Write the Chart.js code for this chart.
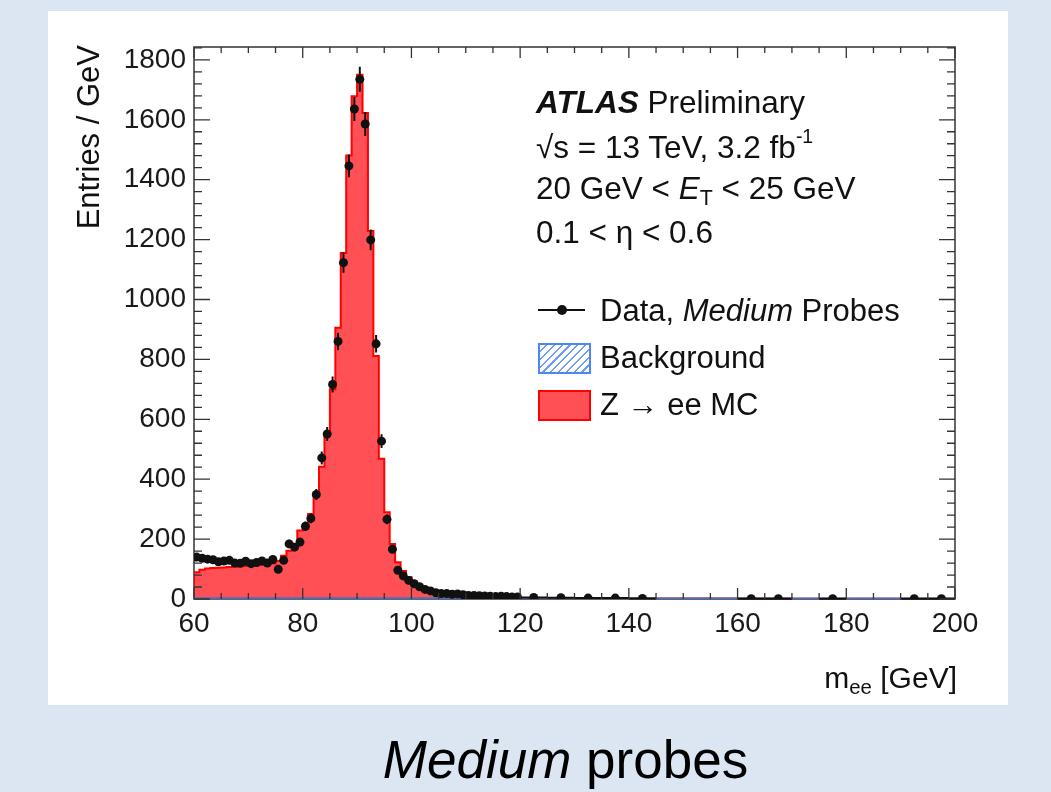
<!DOCTYPE html>
<html>
<head>
<meta charset="utf-8">
<script src="https://cdn.jsdelivr.net/npm/chart.js@4.4.1/dist/chart.umd.min.js"></script>
<style>
  body { margin: 0; width: 1051px; height: 792px; overflow: hidden; background: #dce6f2;
         font-family: "Liberation Sans", Arial, Helvetica, sans-serif; }
  #panel { position: absolute; left: 48px; top: 11px; width: 960px; height: 694px; background: #fff; }
  #plot { position: absolute; left: 0; top: 0; }
  .txt { position: absolute; white-space: nowrap; color: #111; line-height: 1; }
  .note { left: 536px; font-size: 31.5px; }
  .leg { left: 600px; font-size: 31px; }
  sub { font-size: 68%; vertical-align: -0.28em; line-height: 0; }
  sup { font-size: 62%; vertical-align: 0.75em; line-height: 0; }
  .mark { position: absolute; }
</style>
</head>
<body>
<div id="panel"></div>
<canvas id="plot" width="1051" height="792"></canvas>

<!-- axis titles -->
<div class="txt" id="ytitle" style="left:73px; top:345px; width:300px; text-align:right; font-size:31px; line-height:31px; transform-origin:0 0; transform:rotate(-90deg);">Entries / GeV</div>
<div class="txt" style="right:94px; top:663px; font-size:30px;">m<sub>ee</sub> [GeV]</div>

<!-- ATLAS block -->
<div class="txt note" style="top:87px;"><b><i>ATLAS</i></b> Preliminary</div>
<div class="txt note" style="top:132px;">√s = 13 TeV, 3.2 fb<sup>-1</sup></div>
<div class="txt note" style="top:173px;">20 GeV &lt; <i>E</i><sub>T</sub> &lt; 25 GeV</div>
<div class="txt note" style="top:217px;">0.1 &lt; η &lt; 0.6</div>

<!-- legend -->
<div class="mark" style="left:538px; top:309px; width:47px; height:2px; background:#111;"></div>
<div class="mark" style="left:557px; top:305px; width:10px; height:10px; border-radius:50%; background:#111;"></div>
<div class="txt leg" style="top:295px;">Data, <i>Medium</i> Probes</div>
<div class="mark" style="left:538px; top:343px; width:49px; height:27px; border:2px solid #4f86f7;
     background: repeating-linear-gradient(135deg, #fff 0 4px, #6f9cf5 4px 5.5px);"></div>
<div class="txt leg" style="top:342px;">Background</div>
<div class="mark" style="left:538px; top:390px; width:49px; height:27px; border:2px solid #f00; background:#ff5056;"></div>
<div class="txt leg" style="top:389px;">Z → ee MC</div>

<!-- caption -->
<div class="txt" style="left:0; width:1131px; text-align:center; top:733px; font-size:53px; color:#000;"><i>Medium</i> probes</div>

<script>
// m_ee bin edges [GeV]: 1 GeV bins up to 120, then 5 GeV bins
const binEdges = [60,61,62,63,64,65,66,67,68,69,70,71,72,73,74,75,76,77,78,79,
  80,81,82,83,84,85,86,87,88,89,90,91,92,93,94,95,96,97,98,99,
  100,101,102,103,104,105,106,107,108,109,110,111,112,113,114,115,116,117,118,119,
  120,125,130,135,140,145,150,155,160,165,170,175,180,185,190,195,200];

// data, Medium probes (entries / GeV), null = empty bin
const dataValues = [140,136,133,131,124,127,129,120,119,126,
  118,122,127,120,132,99,129,184,173,190,
  243,269,349,471,551,716,860,1123,1446,1636,
  1735,1586,1199,852,527,266,166,96,77,62,
  51,41,32,27,21,18,18,16,17,14,
  12,12,11,10,9,8,9,8,7,7,
  5,4,3,3,2,null,null,null,1,1,null,1,null,null,1,1];

// Z -> ee MC (entries / GeV)
const mcValues = [88,96,100,102,103,104,105,106,108,109,
  110,111,113,114,117,125,143,160,175,227,
  232,282,343,440,543,699,904,1154,1479,1677,
  1749,1621,1227,810,467,288,182,121,92,72,
  56,44,35,28,22,18,15,12,10,8,
  7,6,5,5,4,4,3,3,3,2,
  2,1.5,1,1,0.8,0.6,0.5,0.4,0.3,0.3,0.2,0.2,0.2,0.1,0.1,0.1];

// background (entries / GeV)
const bkgValues = [1.5,1.5,1.5,1.5,1.5,1.5,1.5,1.5,1.5,1.5,
  1.5,1.5,1.5,1.5,1.5,1.5,1.5,1.5,1.5,1.5,
  1.5,1.5,1.5,1.5,1.5,1.5,1.5,1.5,1.5,1.5,
  1.5,1.5,1.5,1.5,1.5,1.5,1.5,1.5,1.5,1.5,
  1.5,1.5,1.5,1.5,1.5,1.5,1.5,1.5,1.5,1.5,
  1.5,1.5,1.5,1.5,1.5,1.5,1.5,1.5,1.5,1.5,
  1,1,1,1,1,1,1,1,1,1,1,1,1,1,1,1];

const xTicks = [60,80,100,120,140,160,180,200];
const yTicks = [0,200,400,600,800,1000,1200,1400,1600,1800];

// histogram outline as a step line: start at 0, one point per low edge, close at 0
function stepPoints(vals) {
  let pts = [{x: binEdges[0], y: 0}];
  vals.forEach((v, i) => pts.push({x: binEdges[i], y: v}));
  pts.push({x: binEdges[binEdges.length - 1], y: vals[vals.length - 1]});
  pts.push({x: binEdges[binEdges.length - 1], y: 0});
  return pts;
}

const mcStack = mcValues.map((v, i) => v + bkgValues[i]);

const dataPoints = dataValues.map((v, i) => ({
  x: (binEdges[i] + binEdges[i + 1]) / 2, y: v, lo: binEdges[i], hi: binEdges[i + 1]
}));

// frame drawn under the histograms
const framePlugin = {
  id: 'frame',
  beforeDatasetsDraw(chart) {
    const { ctx, chartArea: a } = chart;
    ctx.save();
    ctx.strokeStyle = '#333';
    ctx.lineWidth = 1.5;
    ctx.strokeRect(a.left, a.top, a.right - a.left, a.bottom - a.top);
    ctx.restore();
  }
};

// ROOT style inner ticks on all four sides, drawn on top
const ticksPlugin = {
  id: 'innerTicks',
  afterDatasetsDraw(chart) {
    const { ctx, chartArea: a, scales: { x, y } } = chart;
    ctx.save();
    ctx.strokeStyle = '#333';
    ctx.lineWidth = 1.3;
    ctx.beginPath();
    for (let i = 0; i < xTicks.length; i++) {
      const sub = i < xTicks.length - 1 ? 4 : 1;
      for (let k = 0; k < sub; k++) {
        const v = xTicks[i] + k * (xTicks[1] - xTicks[0]) / 4;
        const px = x.getPixelForValue(v);
        const len = k === 0 ? 11 : 6;
        ctx.moveTo(px, a.bottom); ctx.lineTo(px, a.bottom - len);
        ctx.moveTo(px, a.top); ctx.lineTo(px, a.top + len);
      }
    }
    for (let i = 0; i < yTicks.length; i++) {
      for (let k = 0; k < 5; k++) {
        const v = yTicks[i] + k * (yTicks[1] - yTicks[0]) / 5;
        if (v > y.max) break;
        const py = y.getPixelForValue(v);
        const len = k === 0 ? 16 : 8;
        ctx.moveTo(a.left, py); ctx.lineTo(a.left + len, py);
        ctx.moveTo(a.right, py); ctx.lineTo(a.right - len, py);
      }
    }
    ctx.stroke();
    ctx.restore();
  }
};

// error bars for the data points (stat. error, horizontal = bin width)
const errorBarPlugin = {
  id: 'errorBars',
  afterDatasetDraw(chart, args) {
    if (args.index !== 0) return;
    const { ctx, scales: { x, y } } = chart;
    ctx.save();
    ctx.strokeStyle = '#111';
    ctx.lineWidth = 2;
    ctx.beginPath();
    dataPoints.forEach(p => {
      if (p.y === null) return;
      const w = p.hi - p.lo;
      const err = Math.sqrt(p.y * w) / w;
      const px = x.getPixelForValue(p.x), py = y.getPixelForValue(p.y);
      ctx.moveTo(px, y.getPixelForValue(p.y + err)); ctx.lineTo(px, y.getPixelForValue(Math.max(0, p.y - err)));
      ctx.moveTo(x.getPixelForValue(p.lo), py); ctx.lineTo(x.getPixelForValue(p.hi), py);
    });
    ctx.stroke();
    ctx.restore();
  }
};

const tickFont = { family: '"Liberation Sans", Arial, sans-serif', size: 28 };

new Chart(document.getElementById('plot'), {
  type: 'line',
  data: {
    datasets: [
      {
        label: 'Data, Medium Probes',
        data: dataPoints,
        showLine: false,
        pointRadius: 4.5,
        pointBackgroundColor: '#111',
        pointBorderWidth: 0,
        order: 0
      },
      {
        label: 'Background',
        data: stepPoints(bkgValues),
        stepped: true,
        borderColor: '#4a6cc4',
        borderWidth: 2.5,
        pointRadius: 0,
        fill: false,
        order: 1
      },
      {
        label: 'Z → ee MC',
        data: stepPoints(mcStack),
        stepped: true,
        borderColor: '#ff0000',
        borderWidth: 2,
        backgroundColor: '#ff5056',
        pointRadius: 0,
        fill: 'origin',
        order: 2
      }
    ]
  },
  options: {
    responsive: false,
    animation: false,
    devicePixelRatio: 1,
    layout: { padding: { top: 47, right: 96, left: 0, bottom: 0 } },
    plugins: { legend: { display: false }, tooltip: { enabled: false } },
    scales: {
      x: {
        type: 'linear', min: 60, max: 200,
        grid: { display: false, drawTicks: false },
        border: { display: false },
        afterBuildTicks: s => { s.ticks = xTicks.map(v => ({ value: v })); },
        afterFit: s => { s.height = 792 - 599; },
        ticks: { font: tickFont, color: '#1a1a1a', padding: 8, maxRotation: 0, autoSkip: false,
                 callback: v => String(v) }
      },
      y: {
        type: 'linear', min: 0, max: 1843,
        grid: { display: false, drawTicks: false },
        border: { display: false },
        afterBuildTicks: s => { s.ticks = yTicks.map(v => ({ value: v })); },
        afterFit: s => { s.width = 194; },
        ticks: { font: tickFont, color: '#1a1a1a', padding: 8, autoSkip: false,
                 callback: v => String(v) }
      }
    }
  },
  plugins: [framePlugin, errorBarPlugin, ticksPlugin]
});
</script>
</body>
</html>
